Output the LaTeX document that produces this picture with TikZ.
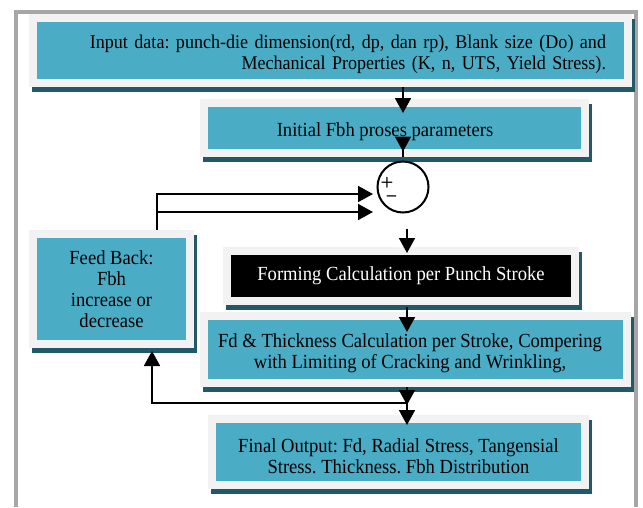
\documentclass[tikz,border=0pt]{standalone}
\usepackage{fontspec}
\setmainfont{Liberation Serif}[FakeStretch=0.93]
\usetikzlibrary{arrows.meta}
\definecolor{boxcyan}{HTML}{4BACC6}
\definecolor{boxrim}{HTML}{F2F2F2}
\definecolor{boxshade}{HTML}{215968}
\definecolor{framegray}{HTML}{A6A6A6}
\newcommand{\topgap}{\rule{0pt}{22pt}}
\tikzset{
  stepbox/.style={draw=boxrim, line width=8pt, fill=boxcyan, inner sep=0pt,
    font=\frenchspacing\fontsize{20}{21}\selectfont, align=center,
    preaction={draw=boxshade, fill=boxshade, line width=8pt,
      transform canvas={shift={(3pt,-5pt)}}}},
  sumnode/.style={circle, draw=black, line width=2pt, fill=white, minimum size=51pt, inner sep=0pt},
  sign/.style={font=\sffamily\bfseries\fontsize{15}{15}\selectfont, inner sep=0pt, text depth=0pt},
  flow/.style={line width=1.8pt, -{Triangle[length=15pt,width=16pt]}},
  frame/.style={draw=framegray, line width=4pt}
}
\begin{document}
\begin{tikzpicture}[x=1pt,y=-1pt]
  \useasboundingbox (0,0) rectangle (643,507);
  \path [frame] (15.5,507) -- (15.5,11.5) -- (636,11.5) -- (636,507);
  % boxes
  \node [stepbox, font=\frenchspacing\fontsize{19.4}{21}\selectfont, minimum width=595, minimum height=65,
    text width=551, align=right] (input) at (330.5,50.5)
    {\topgap Input data: punch-die dimension(rd, dp, dan rp), Blank size (Do) and\\Mechanical Properties (K, n, UTS, Yield Stress).};
  \node [stepbox, minimum width=381, minimum height=50] (init) at (394.5,128)
    {\topgap Initial Fbh proses parameters\hspace*{19pt}};
  \node [sumnode] (sum) at (403,187) {};
  \node [sign] (plus) at (387,181.5) {+};
  \node [sign, font=\sffamily\bfseries\fontsize{18}{18}\selectfont] (minus) at (391.5,198.5) {–};
  \node [stepbox, fill=black, text=white, minimum width=348, minimum height=50] (forming) at (401,276)
    {Forming Calculation per Punch Stroke};
  \node [stepbox, minimum width=157, minimum height=110] (feedback) at (111.5,289)
    {Feed Back:\\Fbh\\increase or\\decrease};
  \node [stepbox, minimum width=423, minimum height=67] (check) at (415.5,349.5)
    {\topgap Fd \& Thickness Calculation per Stroke, Compering\hspace*{11pt}\\with Limiting of Cracking and Wrinkling,\hspace*{11pt}};
  \node [stepbox, minimum width=373, minimum height=66] (output) at (398.5,452)
    {\topgap Final Output: Fd, Radial Stress, Tangensial\\Stress. Thickness. Fbh Distribution};
  \coordinate (jn) at (407,403);
  % connectors
  \draw [flow, shorten >=-14pt] (input.south -| sum) -- (init.north -| sum);
  \draw [flow, shorten >=9pt] (init.south -| sum) -- (sum);
  \draw [flow, shorten >=-6pt] ([xshift=4pt,yshift=-15pt]sum.south) -- ([xshift=4pt]sum.south |- forming.north);
  \draw [flow, shorten <=2pt, shorten >=-20pt] ([xshift=6pt]forming.south) -- ([xshift=6pt]forming.south |- check.north);
  \draw [flow, shorten >=-2pt] (check.south -| jn) -- (jn);
  \draw [flow, shorten >=-10pt] (jn) -- (output.north -| jn);
  \draw [flow, shorten >=3pt] (jn) -| ([xshift=40.5pt]feedback.south);
  \draw [flow] ([xshift=45.5pt]feedback.north) |- ([xshift=-3.5pt,yshift=-7pt]sum.west);
  \draw [flow] ([xshift=45.5pt,yshift=18pt]feedback.north) -- ([xshift=-3.5pt,yshift=-25pt]sum.west);
\end{tikzpicture}
\end{document}
